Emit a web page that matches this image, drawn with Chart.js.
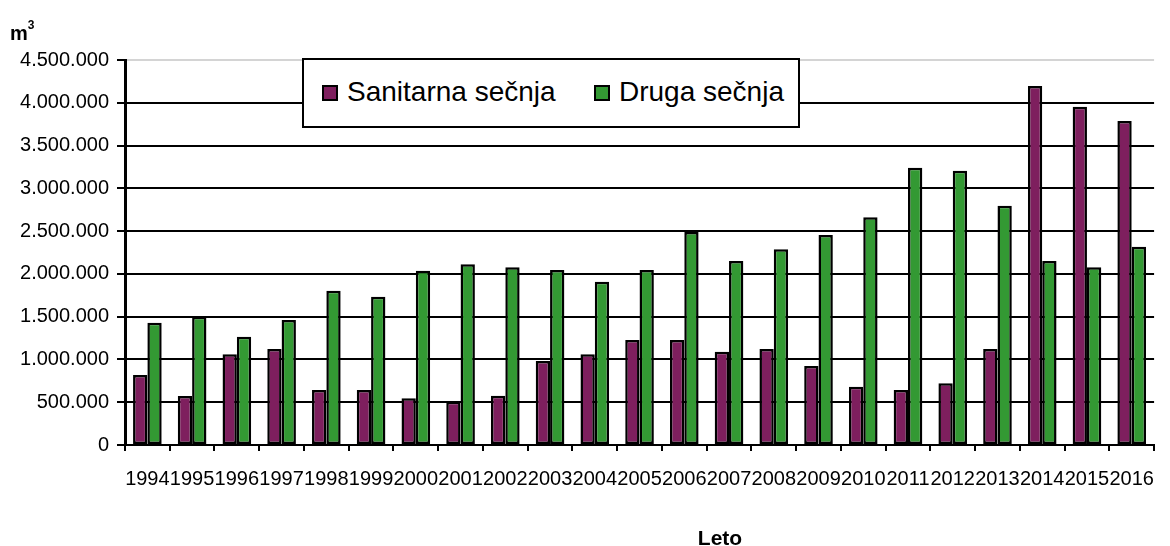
<!DOCTYPE html>
<html>
<head>
<meta charset="utf-8">
<script src="https://cdn.jsdelivr.net/npm/chart.js@4.4.1/dist/chart.umd.min.js"></script>
<style>
  html, body { margin: 0; padding: 0; background: #fff; }
  #wrap { position: relative; width: 1170px; height: 546px; font-family: 'Liberation Sans', Arial, sans-serif; color: #000; }
  #c { position: absolute; left: 0; top: 0; }
  .abs { position: absolute; white-space: nowrap; }
  #unit { left: 10px; top: 18px; font-size: 20px; font-weight: bold; line-height: 20px; }
  #unit sup { font-size: 12px; position: relative; top: -3px; }
  #xtitle { left: 720px; top: 527px; font-size: 21px; font-weight: bold; line-height: 21px; transform: translateX(-50%); }
  #legend { left: 302px; top: 58px; width: 498px; height: 70px; box-sizing: border-box; border: 2px solid #000; background: #fff; }
  .mk { position: absolute; width: 16px; height: 16px; box-sizing: border-box; border: 2px solid #000; }
  .lt { position: absolute; font-size: 28px; line-height: 28px; white-space: nowrap; }
</style>
</head>
<body>
<div id="wrap">
  <canvas id="c" width="1170" height="546"></canvas>
  <div id="unit" class="abs">m<sup>3</sup></div>
  <div id="xtitle" class="abs">Leto</div>
  <div id="legend" class="abs"></div>
</div>
<script>
const years = ['1994','1995','1996','1997','1998','1999','2000','2001','2002','2003','2004','2005','2006','2007','2008','2009','2010','2011','2012','2013','2014','2015','2016'];
const seriesNames = ['Sanitarna sečnja', 'Druga sečnja'];
const sanitarna = [818000, 573000, 1060000, 1122000, 643000, 643000, 546000, 506000, 577000, 982000, 1060000, 1227000, 1227000, 1091000, 1122000, 923000, 682000, 643000, 721000, 1122000, 4196000, 3954000, 3787000];
const druga = [1430000, 1500000, 1266000, 1461000, 1804000, 1734000, 2038000, 2112000, 2077000, 2045000, 1909000, 2045000, 2490000, 2151000, 2287000, 2455000, 2661000, 3242000, 3206000, 2797000, 2151000, 2077000, 2318000];
const yMin = 0, yMax = 4500000, yStep = 500000;
const colors = ['#7E1F5E', '#339933'];

function fmt(v) {
  return String(Math.round(v)).replace(/\B(?=(\d{3})+(?!\d))/g, '.');
}

const FONT = "'Liberation Sans', Arial, sans-serif";

const chart = new Chart(document.getElementById('c'), {
  type: 'bar',
  data: {
    labels: years,
    datasets: [
      { label: seriesNames[0], data: sanitarna, backgroundColor: colors[0], borderColor: '#000', borderWidth: 2.5, borderSkipped: false },
      { label: seriesNames[1], data: druga, backgroundColor: colors[1], borderColor: '#000', borderWidth: 2.5, borderSkipped: false }
    ]
  },
  options: {
    responsive: false,
    animation: false,
    devicePixelRatio: 1,
    layout: { padding: { left: 0, top: 60, right: 2, bottom: 0 } },
    datasets: { bar: { categoryPercentage: 0.64, barPercentage: 1.0 } },
    plugins: { legend: { display: false }, tooltip: { enabled: false }, title: { display: false } },
    scales: {
      x: {
        grid: { drawOnChartArea: false, drawTicks: true, tickLength: 6, tickColor: '#000', lineWidth: 2, offset: true },
        border: { display: true, color: '#000', width: 2 },
        ticks: { color: '#000', font: { family: FONT, size: 20 }, padding: 16, maxRotation: 0, minRotation: 0, autoSkip: false },
        afterFit: s => { s.height = 101; }
      },
      y: {
        min: yMin, max: yMax,
        ticks: { stepSize: yStep, color: '#000', font: { family: FONT, size: 20 }, padding: 8, callback: v => fmt(v) },
        grid: {
          color: ctx => (ctx.tick && ctx.tick.value === yMax) ? '#d4d4d4' : '#000',
          lineWidth: 2,
          tickColor: '#000',
          tickLength: 8
        },
        border: { display: true, color: '#000', width: 3 },
        afterFit: s => { s.width = 125; }
      }
    }
  }
});

// Legend built from the datasets
const leg = document.getElementById('legend');
const mkX = [18, 290], txX = [43, 315];
chart.data.datasets.forEach((ds, i) => {
  const m = document.createElement('div');
  m.className = 'mk';
  m.style.left = mkX[i] + 'px';
  m.style.top = '25px';
  m.style.background = ds.backgroundColor;
  leg.appendChild(m);
  const t = document.createElement('div');
  t.className = 'lt';
  t.style.left = txX[i] + 'px';
  t.style.top = '18px';
  t.textContent = ds.label;
  leg.appendChild(t);
});
</script>
</body>
</html>
